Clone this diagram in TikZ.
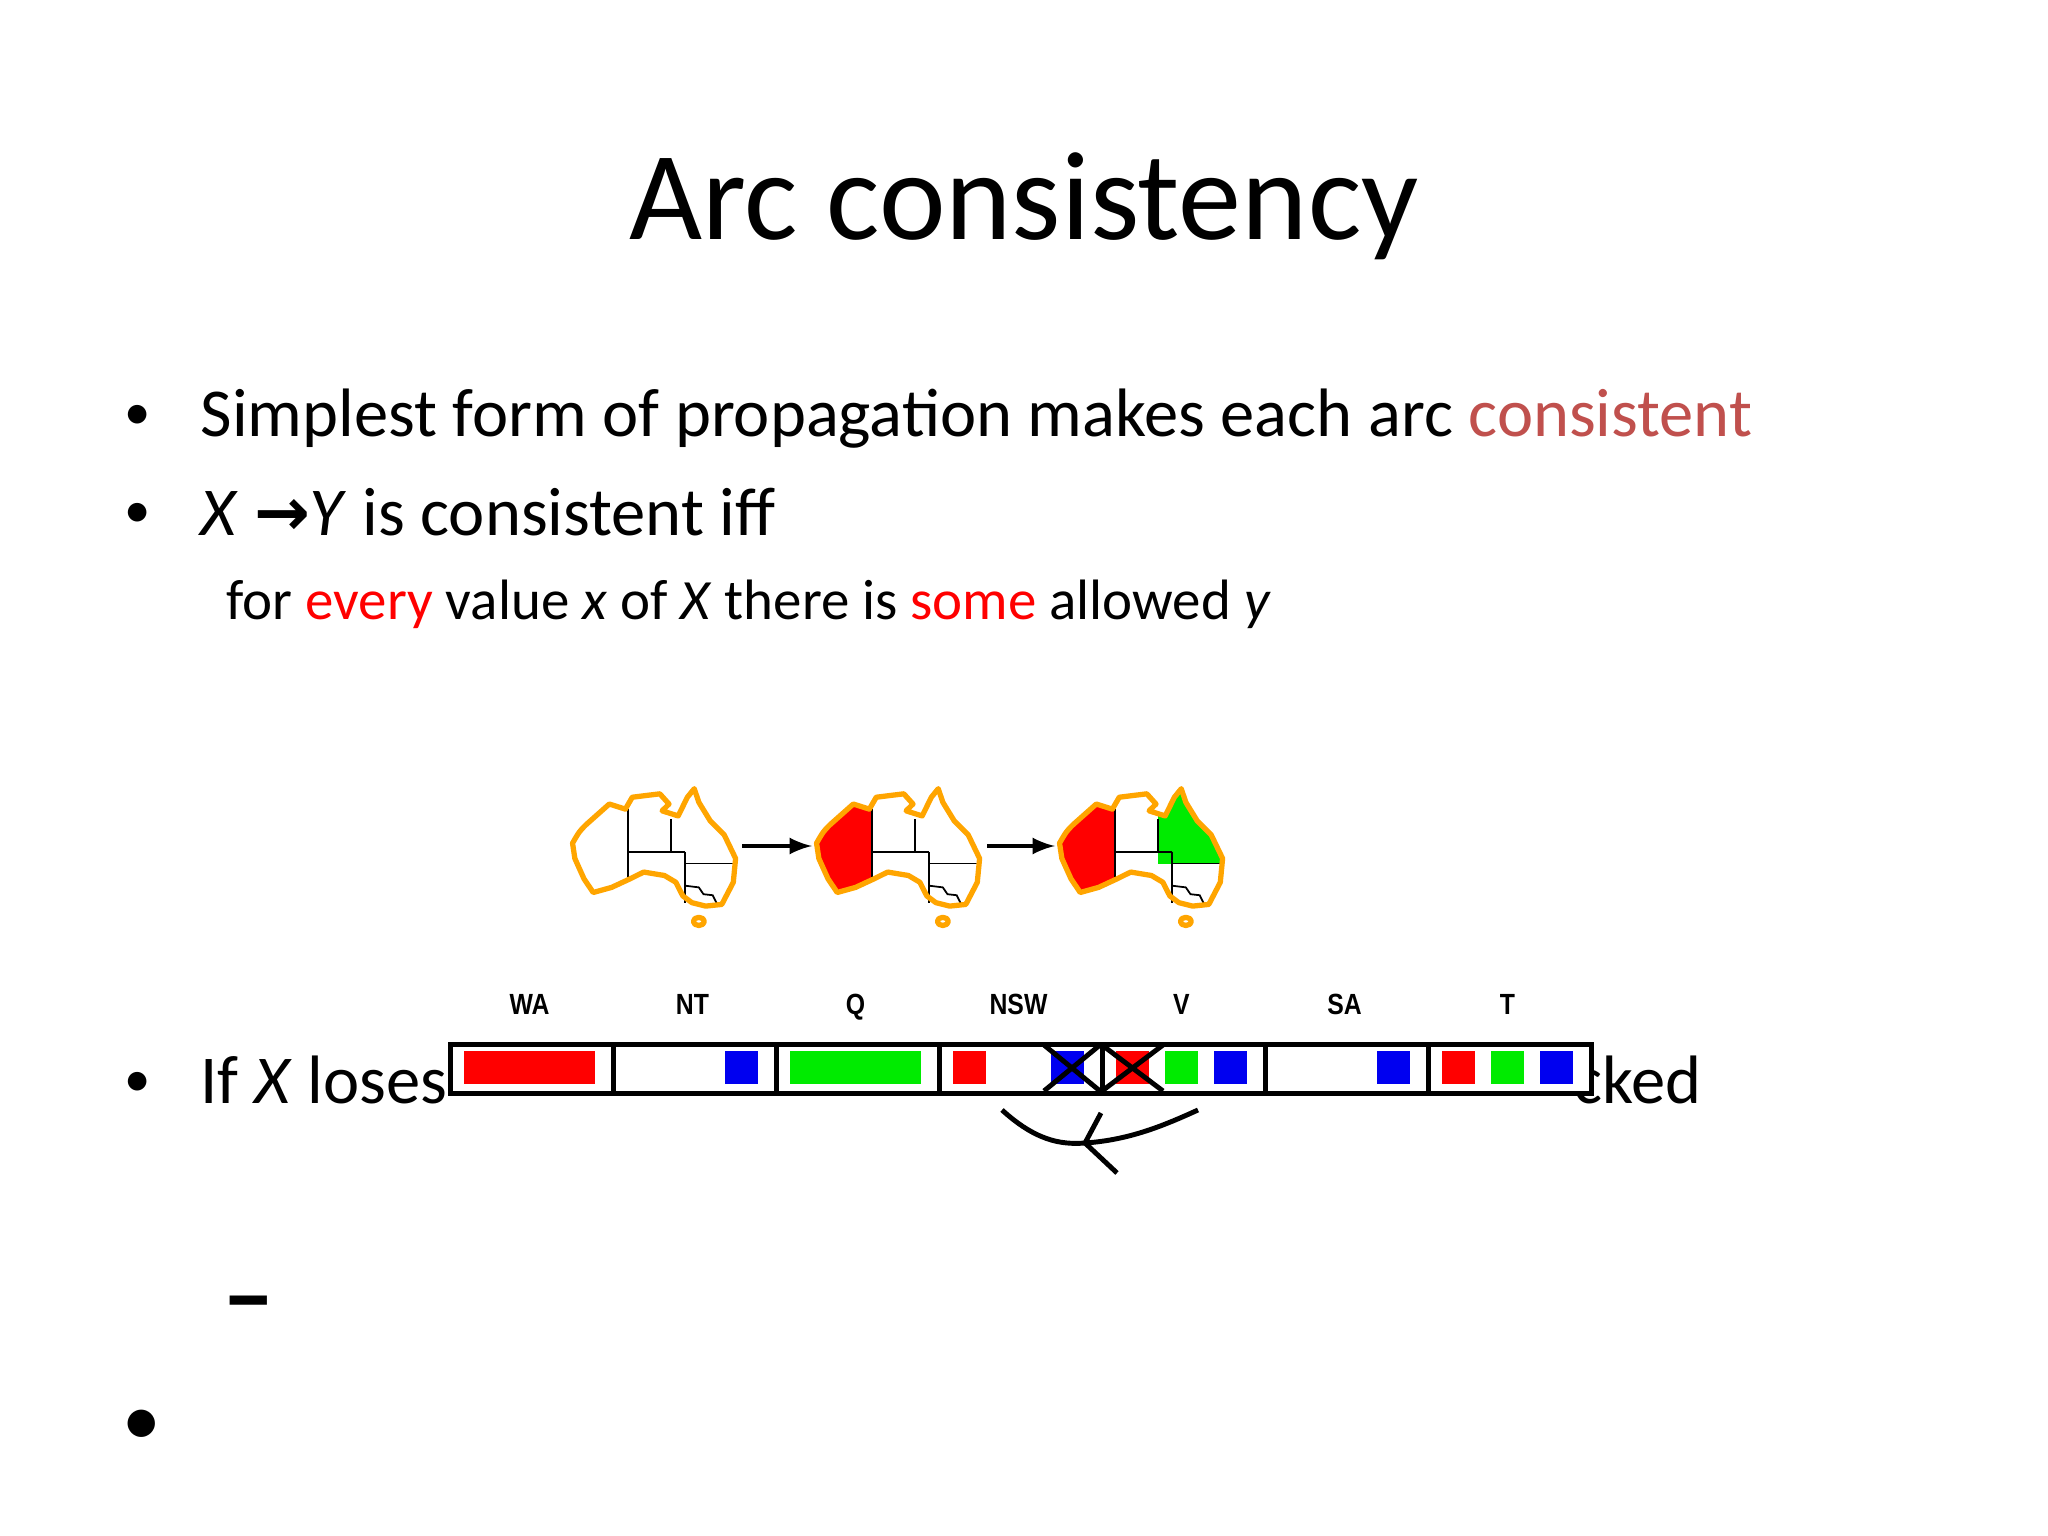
\documentclass[tikz,border=0pt]{standalone}
\usepackage{fontspec}
\setmainfont{Carlito}
\newfontfamily\dejavu{DejaVu Sans}
\newfontfamily\helvb{Liberation Sans}[FakeStretch=0.85]
\definecolor{accred}{RGB}{192,80,77}
\definecolor{ausor}{RGB}{255,165,0}
\definecolor{cred}{RGB}{255,0,0}
\definecolor{cgreen}{RGB}{0,235,0}
\definecolor{cblue}{RGB}{0,0,240}
\tikzset{
  txt/.style={anchor=base west, inner sep=0pt, font=\fontsize{19.5}{23}\selectfont},
  bul/.style={anchor=base west, inner sep=0pt, font=\fontsize{15}{18}\selectfont},
  sub/.style={anchor=base west, inner sep=0pt, font=\fontsize{16.2}{19}\selectfont},
  lab/.style={anchor=base, inner sep=0pt, font=\helvb\bfseries\fontsize{8.3}{10}\selectfont},
  cell/.style={draw=black, line width=1.4pt, fill=white},
  crossx/.style={line width=1.4pt},
  ausline/.style={draw=ausor, line width=1.5pt, line join=round},
  border/.style={line width=0.5pt},
  arr/.style={line width=1.2pt, -latex}
}
\newcommand{\ausoutline}{(70,215) .. controls (85,180) .. (100,160) -- (150,100) -- (185,115) -- (200,80) -- (260,70) -- (280,100) -- (265,120) -- (300,135) -- (320,80) -- (335,55) -- (345,95) -- (370,150) -- (400,190) -- (425,260) -- (420,330) -- (395,395) -- (360,400) -- (330,390) -- (310,370) -- (295,330) -- (270,310) -- (225,300) -- (195,320) -- (155,345) -- (115,360) -- (95,320) -- (75,260) -- cycle}
\newcommand{\ausmap}[3]{%
  \begin{scope}[shift={(#1,-7.70)}, xscale=0.0046, yscale=-0.0034]
    \begin{scope}
      \clip \ausoutline;
      \ifnum#2=1 \fill[cred] (40,0) rectangle (190,500); \fi
      \ifnum#3=1 \fill[cgreen] (285,0) rectangle (440,275); \fi
    \end{scope}
    \draw[border] (190,115) -- (190,325);
    \draw[border] (190,240) -- (315,240);
    \draw[border] (285,145) -- (285,240);
    \draw[border] (315,240) -- (315,390);
    \draw[border] (315,275) -- (420,275);
    \draw[border] (315,340) -- (345,345) -- (355,365) -- (375,368) -- (385,395);
    \draw[ausline] \ausoutline;
    \draw[ausline] (345,445) circle (12);
  \end{scope}}
\begin{document}
\begin{tikzpicture}
\useasboundingbox[fill=white] (0,0) rectangle (20.48,-15.36);
% title
\node[anchor=base, inner sep=0pt, font=\fontsize{35.9}{43}\selectfont] (title) at (10.24,-2.40) {Arc consistency};
% bullets
\node[bul] (b1) at (1.24,-4.30) {•};
\node[txt] (l1) at (2.00,-4.37) {Simplest form of propagation makes each arc \textcolor{accred}{consistent}};
\node[bul] (b2) at (1.24,-5.28) {•};
\node[txt] (l2) at (2.00,-5.35) {\textit{X} {\dejavu\bfseries\fontsize{19}{22}\selectfont →}\textit{Y} is consistent iff};
\node[sub] (l3) at (2.26,-6.20) {for \textcolor{cred}{every} value \textit{x} of \textit{X} there is \textcolor{cred}{some} allowed \textit{y}};
\node[bul] (b3) at (1.24,-10.96) {•};
\node[txt] (l4) at (2.00,-11.03) {If \textit{X} loses};
\node[txt, anchor=base east] (l4b) at (17.02,-11.03) {cked};
\node[txt, font=\bfseries\fontsize{30}{34}\selectfont] (dash) at (2.22,-13.30) {–};
\node[txt, font=\fontsize{22}{26}\selectfont] (b4) at (1.22,-14.45) {•};
% maps
\ausmap{5.404}{0}{0}
\ausmap{7.844}{1}{0}
\ausmap{10.274}{1}{1}
\coordinate (a1s) at (7.42,-8.46); \coordinate (a1e) at (8.12,-8.46);
\coordinate (a2s) at (9.87,-8.46); \coordinate (a2e) at (10.55,-8.46);
\draw[arr] (a1s) -- (a1e);
\draw[arr] (a2s) -- (a2e);
% domain bar
\foreach \i/\n in {0/WA,1/NT,2/Q,3/NSW,4/V,5/SA,6/T}{
  \node[cell, minimum width=1.63cm, minimum height=0.49cm, anchor=north west, inner sep=0pt] (c\i) at ({4.48+1.63*\i},-10.42) {};
  \node[lab] (t\i) at ({5.295+1.63*\i},-10.14) {\n};
}
\newcommand{\sqr}[3]{\fill[#3] ({4.48+1.63*#1+0.16+0.49*#2},-10.51) rectangle ++(0.33,-0.33);}
\fill[cred] (4.64,-10.51) rectangle (5.95,-10.84);
\sqr{1}{2}{cblue}
\fill[cgreen] (7.90,-10.51) rectangle (9.21,-10.84);
\sqr{3}{0}{cred}
\sqr{3}{2}{cblue}
\sqr{4}{0}{cred}
\sqr{4}{1}{cgreen}
\sqr{4}{2}{cblue}
\sqr{5}{2}{cblue}
\sqr{6}{0}{cred}
\sqr{6}{1}{cgreen}
\sqr{6}{2}{cblue}
\draw[crossx] (10.44,-10.45) -- (11.00,-10.91);
\draw[crossx] (11.00,-10.45) -- (10.44,-10.91);
\draw[crossx] (11.02,-10.45) -- (11.63,-10.91);
\draw[crossx] (11.63,-10.45) -- (11.02,-10.91);
% curved arrow
\coordinate (cs) at (10.02,-11.10);
\coordinate (cm) at (10.85,-11.43);
\coordinate (ce) at (11.98,-11.10);
\coordinate (h1) at (11.01,-11.13);
\coordinate (h2) at (11.17,-11.73);
\draw[line width=1.4pt] (cs) .. controls (10.35,-11.40) and (10.60,-11.45) .. (cm) .. controls (11.30,-11.40) and (11.65,-11.25) .. (ce);
\draw[line width=1.4pt] (h1) -- (cm) -- (h2);
\end{tikzpicture}
\end{document}
